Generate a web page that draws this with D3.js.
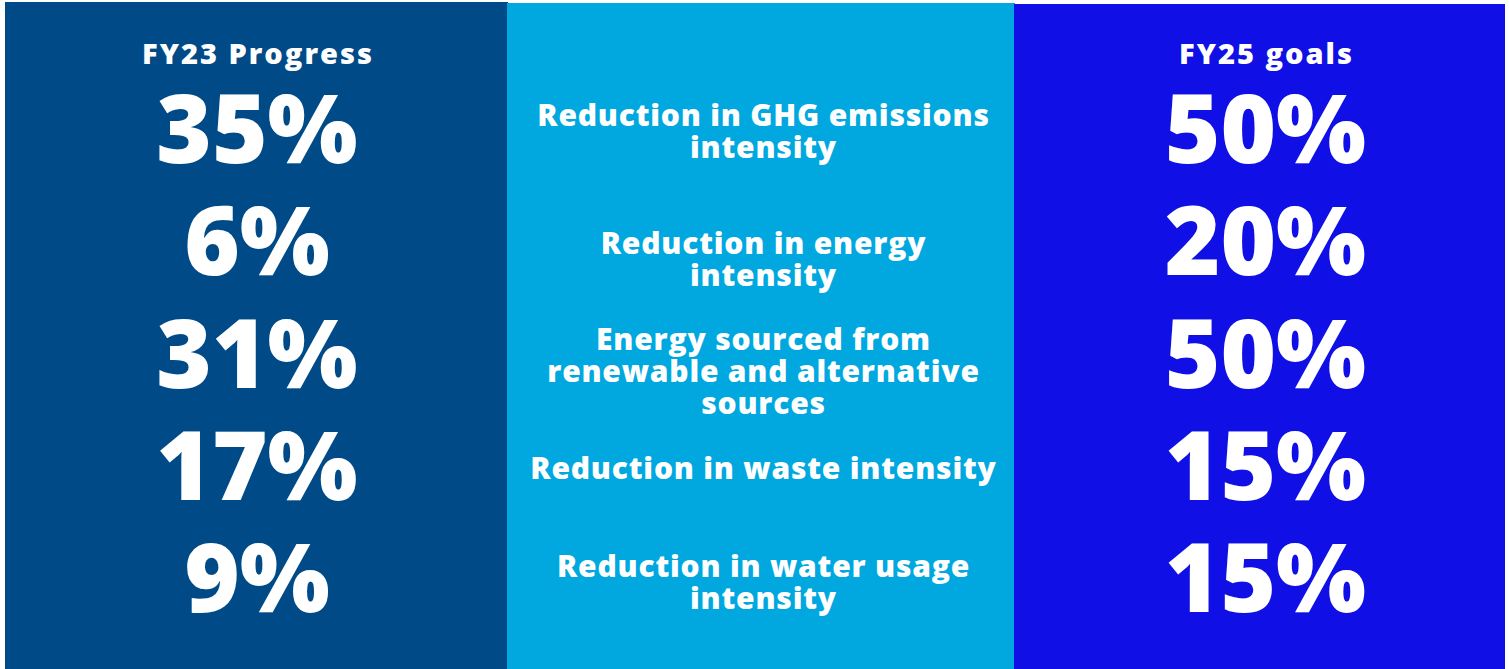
<!DOCTYPE html>
<html>
<head>
<meta charset="utf-8">
<script src="https://cdn.jsdelivr.net/npm/d3@7"></script>
<style>
html,body{margin:0;padding:0;background:#fff;}
svg{display:block;}
text{font-family:"Open Sans",Lato,sans-serif;fill:#fff;}
</style>
</head>
<body>
<svg id="chart" width="1509" height="669"></svg>
<script>
const columns = ["progress", "metric", "goal"];
const headers = ["FY23 Progress", "", "FY25 goals"];
const progress = [35, 6, 31, 17, 9];
const goals = [50, 20, 50, 15, 15];
const metrics = [
  ["Reduction in GHG emissions", "intensity"],
  ["Reduction in energy", "intensity"],
  ["Energy sourced from", "renewable and alternative", "sources"],
  ["Reduction in waste intensity"],
  ["Reduction in water usage", "intensity"]
];

const W = 1509, H = 669;
const colColors = {progress: "#004b87", metric: "#00a8df", goal: "#100fe6"};
const colEdges = [5, 507, 1014, 1505];
const colTop = [2, 3, 4];
const colCenterShift = [1, 3, 6];
const labelShift = [2, 18, 18, 3, 4];

const svg = d3.select("#chart");
const x0 = d3.scaleOrdinal().domain(columns).range(colEdges.slice(0, 3));
const x1 = d3.scaleOrdinal().domain(columns).range(colEdges.slice(1));
const xc = c => (x0(c) + x1(c)) / 2 + colCenterShift[columns.indexOf(c)];
const y = d3.scalePoint().domain(d3.range(progress.length)).range([129, 578]);
const fmt = d => d + "%";

// panels
svg.selectAll("rect.panel").data(columns).join("rect")
  .attr("class", "panel")
  .attr("x", d => x0(d))
  .attr("y", (d, i) => colTop[i])
  .attr("width", d => x1(d) - x0(d) + (d === "goal" ? 0 : 1))
  .attr("height", H)
  .attr("fill", d => colColors[d]);

// headers
svg.selectAll("text.header").data(headers).join("text")
  .attr("class", "header")
  .attr("x", (d, i) => xc(columns[i]) + 1)
  .attr("y", 64)
  .attr("text-anchor", "middle")
  .attr("font-size", 29)
  .attr("font-weight", 800)
  .attr("letter-spacing", 2)
  .text(d => d);

// big numbers
function bigNumbers(col, values) {
  svg.selectAll("text.num-" + col).data(values).join("text")
    .attr("class", "num-" + col)
    .attr("x", xc(col))
    .attr("y", (d, i) => y(i))
    .attr("dy", "0.36em")
    .attr("text-anchor", "middle")
    .attr("font-size", 95)
    .attr("font-weight", 800)
    .text(fmt);
}
bigNumbers("progress", progress);
bigNumbers("goal", goals);

// metric labels
const lh = 32;
svg.selectAll("text.metric").data(metrics).join("text")
  .attr("class", "metric")
  .attr("text-anchor", "middle")
  .attr("font-size", 30)
  .attr("font-weight", 800)
  .attr("letter-spacing", 0.8)
  .each(function(lines, i) {
    const cy = y(i) + labelShift[i];
    const start = cy - (lines.length - 1) * lh / 2;
    d3.select(this).selectAll("tspan").data(lines).join("tspan")
      .attr("x", xc("metric"))
      .attr("y", (d, k) => start + k * lh)
      .attr("dy", "0.35em")
      .text(d => d);
  });
</script>
</body>
</html>
